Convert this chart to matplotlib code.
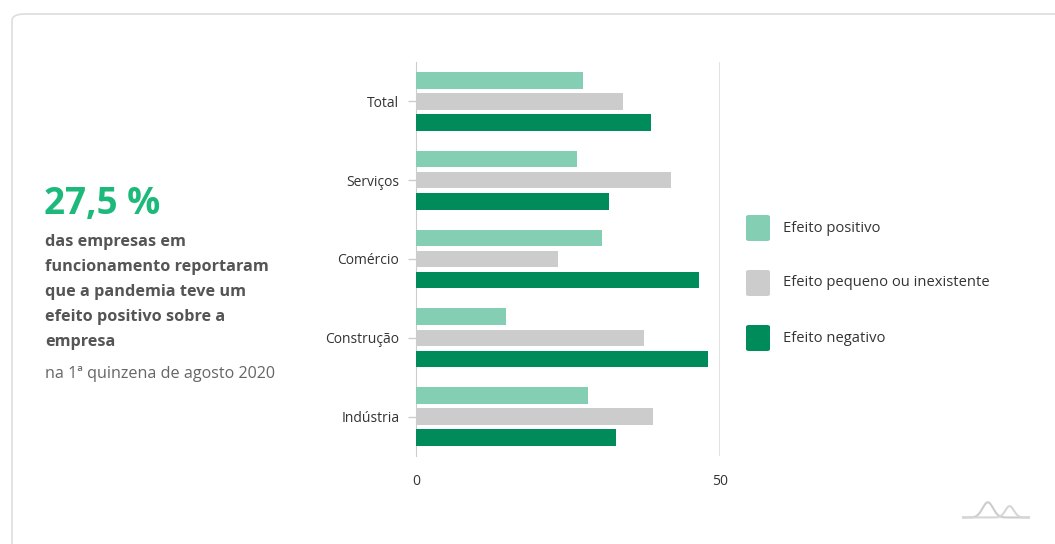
import matplotlib.pyplot as plt
import numpy as np
from matplotlib.patches import FancyBboxPatch

plt.rcParams['font.family'] = ['Open Sans', 'DejaVu Sans']

categories = ['Total', 'Serviços', 'Comércio', 'Construção', 'Indústria']
positivo = [27.5, 26.5, 30.6, 14.8, 28.3]
pequeno = [34.0, 42.0, 23.3, 37.5, 39.0]
negativo = [38.7, 31.8, 46.5, 48.1, 32.9]
series_names = ['Efeito positivo', 'Efeito pequeno ou inexistente', 'Efeito negativo']
colors = ['#84ceb4', '#cccccc', '#008c5a']

W, H = 1055, 544
fig = plt.figure(figsize=(W / 100, H / 100), dpi=100)

# card outline
card = FancyBboxPatch((12 / W, -0.2), 1.2, (H - 14) / H + 0.2,
                      boxstyle='round,pad=0,rounding_size=0.012',
                      transform=fig.transFigure, facecolor='white',
                      edgecolor='#dddddd', linewidth=1.2, zorder=-5)
fig.patches.append(card)

ax = fig.add_axes([416 / W, (H - 456) / H, (720 - 416) / W, (456 - 62) / H])
ax.patch.set_alpha(0)

y = np.arange(len(categories))
h = 0.21
step = 0.267
for i, (vals, name) in enumerate(zip([positivo, pequeno, negativo], series_names)):
    ax.barh(y + (i - 1) * step, vals, height=h, color=colors[i], label=name, zorder=3)

ax.set_xlim(0, 50)
ax.set_ylim(len(categories) - 0.5, -0.5)
ax.set_yticks(y)
ax.set_yticklabels(categories, fontsize=10, color='#333333')
ax.set_xticks([0, 50])
ax.set_xticklabels(['0', '50'], fontsize=10, color='#333333')
ax.tick_params(axis='x', length=0, pad=13)
ax.tick_params(axis='y', length=6, width=1, color='#cccccc', pad=6)
for s in ['top', 'right', 'bottom']:
    ax.spines[s].set_visible(False)
ax.spines['left'].set_color('#cccccc')
ax.axvline(50, color='#dddddd', linewidth=1.2, zorder=1)

# legend
leg_y = [228, 283, 338]
for ly, name, c in zip(leg_y, series_names, colors):
    fig.patches.append(FancyBboxPatch((746 / W, (H - ly - 13) / H), 24 / W, 26 / H,
                                      boxstyle='round,pad=0,rounding_size=0.003',
                                      transform=fig.transFigure, facecolor=c,
                                      edgecolor='none'))
    fig.text(783 / W, (H - ly) / H, name, fontsize=10.6, color='#333333', va='center')

# left text
fig.text(44 / W, (H - 204) / H, '27,5 %', fontsize=26.5, fontweight='bold',
         color='#1db97b', va='center')
lines = ['das empresas em', 'funcionamento reportaram', 'que a pandemia teve um',
         'efeito positivo sobre a', 'empresa']
for k, line in enumerate(lines):
    fig.text(45 / W, (H - 242 - 25 * k) / H, line, fontsize=11.7, fontweight='bold',
             color='#555555', va='center')
fig.text(45 / W, (H - 374) / H, 'na 1ª quinzena de agosto 2020', fontsize=11.65,
         color='#666666', va='center')

# small logo at bottom right
lax = fig.add_axes([962 / W, (H - 519) / H, 68 / W, 19 / H])
lax.axis('off')
t = np.linspace(0, 1, 200)
peak1 = np.exp(-((t - 0.38) / 0.11) ** 2)
peak2 = 0.75 * np.exp(-((t - 0.70) / 0.09) ** 2)
lax.plot(t, peak1, color='#cccccc', linewidth=1.5)
lax.plot(t, peak2, color='#d6d6d6', linewidth=1.5)
lax.set_xlim(0, 1)
lax.set_ylim(-0.1, 1.15)

fig.savefig('out.png', dpi=100)
